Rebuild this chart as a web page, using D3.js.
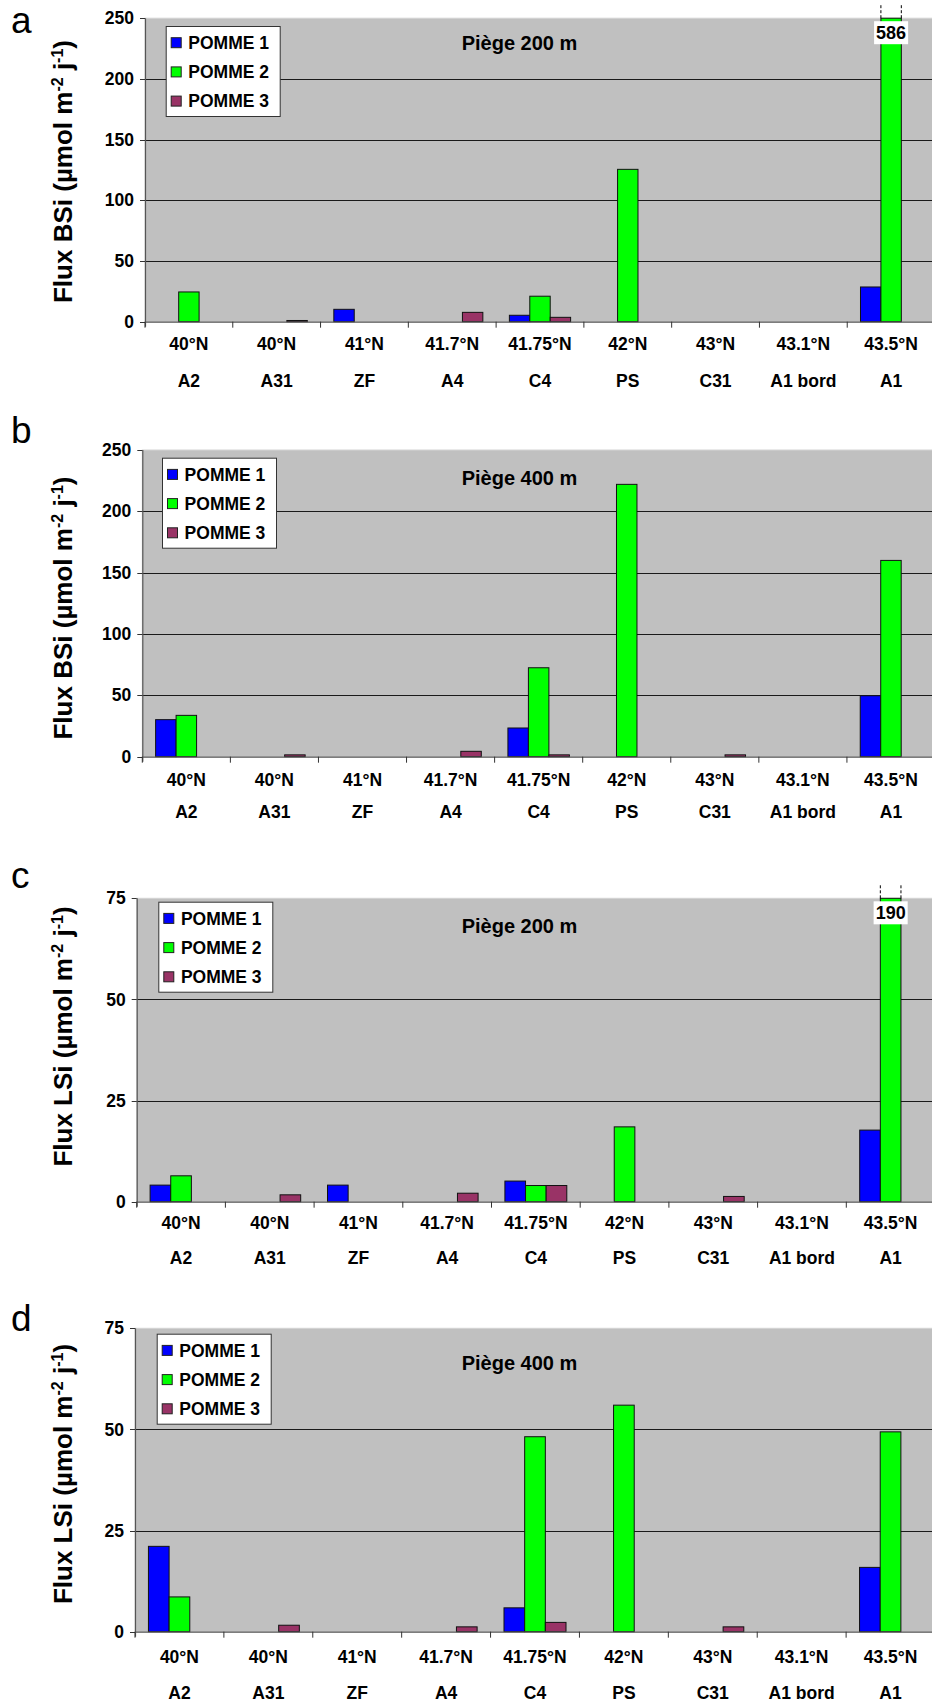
<!DOCTYPE html>
<html>
<head>
<meta charset="utf-8">
<script src="https://cdn.jsdelivr.net/npm/d3@7"></script>
<style>
  html, body { margin: 0; padding: 0; background: #fff; }
  svg { display: block; }
  text { font-family: "Liberation Sans", Arial, sans-serif; }
</style>
</head>
<body>
<svg id="chart" width="932" height="1706"></svg>
<script>
// ---------- data ----------
const latitudes = ["40°N","40°N","41°N","41.7°N","41.75°N","42°N","43°N","43.1°N","43.5°N"];
const stations  = ["A2","A31","ZF","A4","C4","PS","C31","A1 bord","A1"];
const seriesNames = ["POMME 1","POMME 2","POMME 3"];
const seriesColors = ["#0000FF","#00FF00","#993366"];

const bsi200_p1 = [0, 0, 10.2, 0, 5.3, 0, 0, 0, 28.6];
const bsi200_p2 = [24.5, 0, 0, 0, 21, 125.5, 0, 0, 586];
const bsi200_p3 = [0, 1, 0, 7.7, 3.6, 0, 0, 0, 0];

const bsi400_p1 = [30.2, 0, 0, 0, 23.4, 0, 0, 0, 49.7];
const bsi400_p2 = [33.7, 0, 0, 0, 72.5, 222, 0, 0, 160];
const bsi400_p3 = [0, 1.5, 0, 4.4, 1.5, 0, 1.5, 0, 0];

const lsi200_p1 = [4.1, 0, 4.1, 0, 5.1, 0, 0, 0, 17.7];
const lsi200_p2 = [6.4, 0, 0, 0, 4.0, 18.5, 0, 0, 190];
const lsi200_p3 = [0, 1.7, 0, 2.1, 4.0, 0, 1.3, 0, 0];

const lsi400_p1 = [21.1, 0, 0, 0, 5.9, 0, 0, 0, 15.9];
const lsi400_p2 = [8.6, 0, 0, 0, 48.2, 56, 0, 0, 49.4];
const lsi400_p3 = [0, 1.6, 0, 1.2, 2.3, 0, 1.2, 0, 0];

const bsiTicks = [0, 50, 100, 150, 200, 250];
const lsiTicks = [0, 25, 50, 75];

const panelLetters = ["a","b","c","d"];
const panelTitles = ["Piège 200 m","Piège 400 m","Piège 200 m","Piège 400 m"];
const panelYLabel = ["BSi","BSi","LSi","LSi"];

// ---------- layout ----------
const panels = [
  { series: [bsi200_p1, bsi200_p2, bsi200_p3], ticks: bsiTicks, left: 145, top: 18.2, zero: 321.7,
    letterY: 33, titleY: 50, yTitleC: 171.5, latOff: 22.6, stOff: 59, legTop: 26, legLeft: 165.7 },
  { series: [bsi400_p1, bsi400_p2, bsi400_p3], ticks: bsiTicks, left: 142.3, top: 450, zero: 756.7,
    letterY: 443, titleY: 485, yTitleC: 608, latOff: 23, stOff: 55, legTop: 457.7, legLeft: 162 },
  { series: [lsi200_p1, lsi200_p2, lsi200_p3], ticks: lsiTicks, left: 136.7, top: 898.3, zero: 1201.7,
    letterY: 888, titleY: 933, yTitleC: 1036.5, latOff: 20.7, stOff: 56.6, legTop: 901.7, legLeft: 158.3 },
  { series: [lsi400_p1, lsi400_p2, lsi400_p3], ticks: lsiTicks, left: 135, top: 1328.3, zero: 1631.7,
    letterY: 1331, titleY: 1370, yTitleC: 1474, latOff: 25, stOff: 61.6, legTop: 1333.7, legLeft: 156.7 }
];
const plotRight = 935;

const svg = d3.select("#chart");

panels.forEach((p, pi) => {
  const g = svg.append("g");
  const ymax = d3.max(p.ticks);
  const y = d3.scaleLinear().domain([0, ymax]).range([p.zero, p.top]).clamp(true);
  const x0 = d3.scaleBand().domain(d3.range(latitudes.length)).range([p.left, plotRight]).padding(0);
  const w = x0.bandwidth();
  const bw = w / 4.3;
  const gap = (w - 3 * bw) / 2;
  const x1 = d3.scaleBand().domain([0, 1, 2]).range([gap, w - gap]).padding(0);

  // plot background
  g.append("rect").attr("x", p.left).attr("y", p.top)
    .attr("width", plotRight - p.left).attr("height", p.zero - p.top)
    .attr("fill", "#C0C0C0").attr("stroke", "#d4d4d4").attr("stroke-width", 1);

  // gridlines
  g.selectAll(".grid").data(p.ticks.filter(t => t > 0 && t < ymax)).enter()
    .append("line")
    .attr("x1", p.left).attr("x2", plotRight)
    .attr("y1", d => Math.round(y(d)) + 0.5).attr("y2", d => Math.round(y(d)) + 0.5)
    .attr("stroke", "#1a1a1a").attr("stroke-width", 1);

  // bars
  p.series.forEach((vals, si) => {
    g.selectAll(".bar" + si).data(vals.map((v, i) => ({ v, i }))).enter()
      .filter(d => d.v > 0)
      .append("rect")
      .attr("x", d => x0(d.i) + x1(si))
      .attr("y", d => y(d.v))
      .attr("width", x1.bandwidth())
      .attr("height", d => y(0) - y(d.v))
      .attr("fill", seriesColors[si])
      .attr("stroke", "#111").attr("stroke-width", 1);

    // broken bars (value above axis max)
    vals.forEach((v, i) => {
      if (v > ymax) {
        const bx = x0(i) + x1(si);
        [bx, bx + x1.bandwidth()].forEach(xx => {
          g.append("line").attr("x1", xx).attr("x2", xx)
            .attr("y1", p.top - 13).attr("y2", p.top)
            .attr("stroke", "#000").attr("stroke-width", 1).attr("stroke-dasharray", "3,2");
        });
        const cx = bx + x1.bandwidth() / 2;
        const t = g.append("text").attr("x", cx).attr("y", p.top + 21)
          .attr("text-anchor", "middle").attr("font-weight", "bold").attr("font-size", 18)
          .text(v);
        const bb = t.node().getBBox();
        g.insert("rect", () => t.node())
          .attr("x", bb.x - 2).attr("y", p.top + 3)
          .attr("width", bb.width + 4).attr("height", 23)
          .attr("fill", "#fff");
      }
    });
  });

  // left axis
  g.append("line").attr("x1", p.left + 0.5).attr("x2", p.left + 0.5)
    .attr("y1", p.top).attr("y2", p.zero + 5).attr("stroke", "#555").attr("stroke-width", 1.2);
  g.selectAll(".ytick").data(p.ticks).enter().append("line")
    .attr("x1", p.left - 5).attr("x2", p.left)
    .attr("y1", d => Math.round(y(d)) + 0.5).attr("y2", d => Math.round(y(d)) + 0.5)
    .attr("stroke", "#333");
  g.selectAll(".ylab").data(p.ticks).enter().append("text")
    .attr("x", p.left - 11).attr("y", d => y(d))
    .attr("dy", "0.35em").attr("text-anchor", "end")
    .attr("font-weight", "bold").attr("font-size", 17.5).attr("fill", "#000")
    .text(d => d);

  // x axis
  g.append("line").attr("x1", p.left).attr("x2", plotRight)
    .attr("y1", p.zero + 0.5).attr("y2", p.zero + 0.5).attr("stroke", "#555").attr("stroke-width", 1.2);
  g.selectAll(".xtick").data(d3.range(latitudes.length + 1)).enter().append("line")
    .attr("x1", d => p.left + d * w).attr("x2", d => p.left + d * w)
    .attr("y1", p.zero).attr("y2", p.zero + 6)
    .attr("stroke", "#333");
  g.selectAll(".latlab").data(latitudes).enter().append("text")
    .attr("x", (d, i) => x0(i) + w / 2).attr("y", p.zero + p.latOff)
    .attr("dy", "0.35em").attr("text-anchor", "middle")
    .attr("font-weight", "bold").attr("font-size", 17.5)
    .text(d => d);
  g.selectAll(".stlab").data(stations).enter().append("text")
    .attr("x", (d, i) => x0(i) + w / 2).attr("y", p.zero + p.stOff)
    .attr("dy", "0.35em").attr("text-anchor", "middle")
    .attr("font-weight", "bold").attr("font-size", 17.5)
    .text(d => d);

  // y title
  const yt = g.append("text")
    .attr("transform", `translate(72,${p.yTitleC}) rotate(-90)`)
    .attr("text-anchor", "middle").attr("font-weight", "bold").attr("font-size", 26);
  yt.append("tspan").text(`Flux ${panelYLabel[pi]} (µmol m`);
  yt.append("tspan").attr("dy", -9).attr("font-size", 16).text("-2");
  yt.append("tspan").attr("dy", 9).text(" j");
  yt.append("tspan").attr("dy", -9).attr("font-size", 16).text("-1");
  yt.append("tspan").attr("dy", 9).text(")");

  // panel title
  g.append("text").attr("x", 461.7).attr("y", p.titleY)
    .attr("font-weight", "bold").attr("font-size", 20).text(panelTitles[pi]);

  // panel letter
  g.append("text").attr("x", 11).attr("y", p.letterY)
    .attr("font-size", 37).text(panelLetters[pi]);

  // legend
  const lg = g.append("g").attr("transform", `translate(${p.legLeft},${p.legTop})`);
  lg.append("rect").attr("x", 0.5).attr("y", 0.5).attr("width", 114).attr("height", 90)
    .attr("fill", "#fff").attr("stroke", "#333").attr("stroke-width", 1);
  seriesNames.forEach((s, si) => {
    const cy = 16.7 + si * 29.2;
    lg.append("rect").attr("x", 5.5).attr("y", cy - 5).attr("width", 10).attr("height", 10)
      .attr("fill", seriesColors[si]).attr("stroke", "#222");
    lg.append("text").attr("x", 22.6).attr("y", cy).attr("dy", "0.36em")
      .attr("font-weight", "bold").attr("font-size", 17.5).text(s);
  });
});
</script>
</body>
</html>
